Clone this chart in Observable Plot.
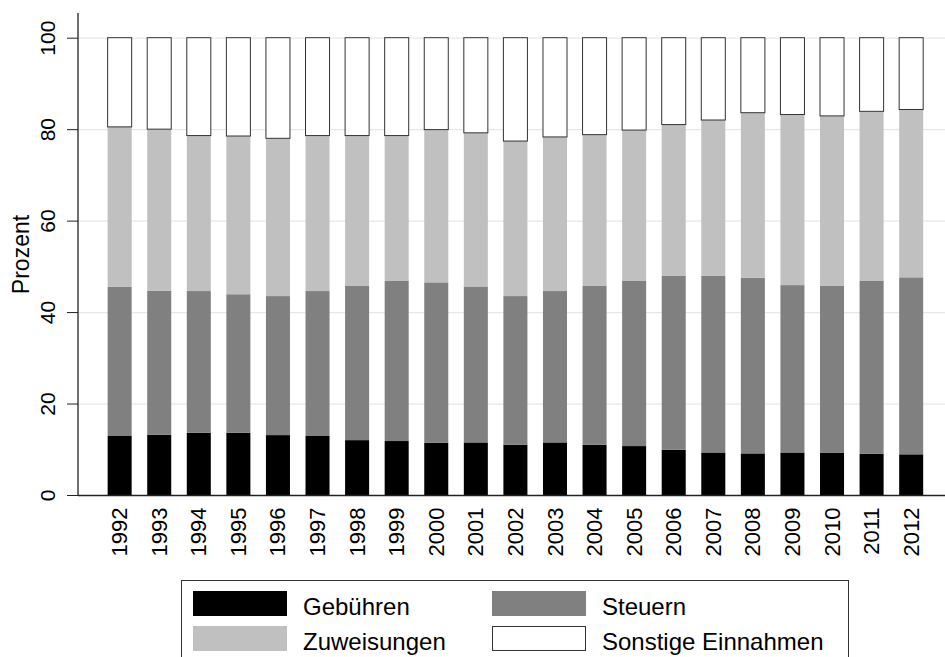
<!DOCTYPE html>
<html>
<head>
<meta charset="utf-8">
<script src="https://cdn.jsdelivr.net/npm/d3@7"></script>
<script src="https://cdn.jsdelivr.net/npm/@observablehq/plot@0.6"></script>
<style>
  body { margin: 0; background: #fff; font-family: "Liberation Sans", Arial, sans-serif; }
  #chart { position: relative; width: 945px; }
  #chart g[aria-label="x-axis tick label"], #chart g[aria-label="x-axis tick label"] text { font-size: 22px !important; }
  #chart g[aria-label="y-axis tick label"], #chart g[aria-label="y-axis tick label"] text { font-size: 21px !important; }
  #chart g[aria-label="y-axis label"], #chart g[aria-label="y-axis label"] text { font-size: 23px !important; }
  #legend { position: relative; margin-left: 181px; margin-top: 5px; width: 668px; height: 80px; border: 1px solid #333; box-sizing: border-box; }
  .sw { position: absolute; width: 94px; height: 25px; box-sizing: border-box; }
  .lt { position: absolute; font-size: 24px; line-height: 25px; color: #000; white-space: nowrap; }
</style>
</head>
<body>
<div id="chart"></div>
<div id="legend"></div>
<script>
const years = ["1992","1993","1994","1995","1996","1997","1998","1999","2000","2001","2002","2003","2004","2005","2006","2007","2008","2009","2010","2011","2012"];
const seriesNames = ["Gebühren", "Steuern", "Zuweisungen", "Sonstige Einnahmen"];
const gebuehren   = [12.9, 13.2, 13.6, 13.6, 13.1, 12.9, 12.0, 11.8, 11.4, 11.5, 11.0, 11.5, 11.0, 10.7, 9.9, 9.3, 9.1, 9.3, 9.2, 9.0, 8.9];
const steuern     = [32.6, 31.5, 31.0, 30.3, 30.4, 31.7, 33.7, 35.0, 35.1, 34.1, 32.5, 33.1, 34.8, 36.2, 38.0, 38.6, 38.4, 36.6, 36.6, 37.9, 38.7];
const zuweisungen = [35.0, 35.3, 34.0, 34.6, 34.5, 34.0, 32.9, 31.8, 33.4, 33.6, 33.9, 33.7, 33.0, 32.9, 33.1, 34.1, 36.1, 37.3, 37.1, 37.0, 36.7];
const sonstige    = [19.5, 20.0, 21.4, 21.5, 22.0, 21.4, 21.4, 21.4, 20.1, 20.8, 22.6, 21.7, 21.2, 20.2, 19.0, 18.0, 16.4, 16.8, 17.1, 16.1, 15.7];
const yTicks = [0, 20, 40, 60, 80, 100];
const colors = ["#000000", "#808080", "#c0c0c0", "#ffffff"];

const valueArrays = [gebuehren, steuern, zuweisungen, sonstige];
const data = [];
years.forEach((yr, i) => {
  seriesNames.forEach((s, j) => data.push({year: yr, series: s, value: valueArrays[j][i]}));
});

const stackOpts = {x: "year", y: "value", z: "series", order: seriesNames};

const leftAxisLine = (index, scales, values, dims) => {
  const l = d3.create("svg:line")
    .attr("x1", dims.marginLeft).attr("x2", dims.marginLeft)
    .attr("y1", dims.marginTop).attr("y2", dims.height - dims.marginBottom)
    .attr("stroke", "#222").attr("stroke-width", 1.3);
  return l.node();
};

const chart = Plot.plot({
  width: 945,
  height: 575,
  marginLeft: 78,
  marginRight: 0,
  marginTop: 13,
  marginBottom: 80,
  style: {fontFamily: '"Liberation Sans", Arial, sans-serif', fontSize: "21px", color: "#000", background: "#fff"},
  x: {domain: years, paddingInner: 0.393, paddingOuter: 0.65, align: 0.576, round: false, label: null},
  y: {domain: [0, 105.4], label: "Prozent"},
  color: {domain: seriesNames, range: colors},
  marks: [
    Plot.gridY(yTicks.filter(t => t > 0), {stroke: "#e8e8e8", strokeOpacity: 1, strokeWidth: 1.3}),
    Plot.barY(data, Plot.stackY({...stackOpts, fill: "series"})),
    Plot.barY(data, Plot.stackY({...stackOpts, fill: "none", stroke: "#333", strokeWidth: 1, strokeOpacity: d => d.series === "Sonstige Einnahmen" ? 1 : 0})),
    Plot.axisX({tickSize: 0, tickRotate: -90, textAnchor: "end", lineAnchor: "middle", tickPadding: 12, label: null, fontSize: 22}),
    Plot.axisY(yTicks, {tickSize: 11, tickRotate: -90, textAnchor: "middle", lineAnchor: "bottom", tickPadding: 13, label: "Prozent", labelAnchor: "center", labelOffset: 66, labelArrow: false, fontSize: 22, stroke: "#222"}),
    Plot.ruleY([0], {stroke: "#222", strokeWidth: 1.3}),
    leftAxisLine
  ]
});
document.getElementById("chart").appendChild(chart);

// legend
const legend = document.getElementById("legend");
const pos = [
  {sx: 11, sy: 10, tx: 121},
  {sx: 310, sy: 10, tx: 420},
  {sx: 11, sy: 45, tx: 121},
  {sx: 310, sy: 45, tx: 420}
];
seriesNames.forEach((s, i) => {
  const p = pos[i];
  const sw = document.createElement("div");
  sw.className = "sw";
  sw.style.left = p.sx + "px";
  sw.style.top = p.sy + "px";
  sw.style.background = colors[i];
  if (s === "Sonstige Einnahmen") sw.style.border = "1px solid #333";
  legend.appendChild(sw);
  const t = document.createElement("div");
  t.className = "lt";
  t.style.left = p.tx + "px";
  t.style.top = (p.sy + 3) + "px";
  t.textContent = s;
  legend.appendChild(t);
});
</script>
</body>
</html>
